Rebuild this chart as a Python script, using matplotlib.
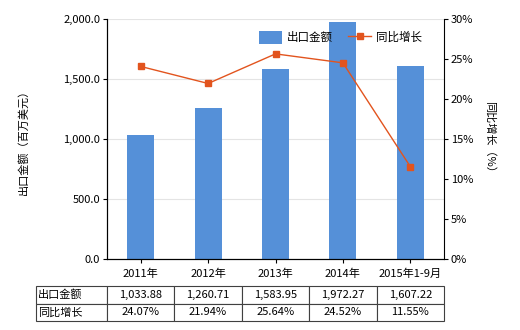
import numpy as np
import matplotlib
matplotlib.use('Agg')
import matplotlib.pyplot as plt
from matplotlib.ticker import FuncFormatter

plt.rcParams['font.family'] = ['Noto Sans CJK SC', 'DejaVu Sans']
plt.rcParams['font.size'] = 8

categories = ['2011年', '2012年', '2013年', '2014年', '2015年1-9月']
export_value = [1033.88, 1260.71, 1583.95, 1972.27, 1607.22]
yoy_growth = [24.07, 21.94, 25.64, 24.52, 11.55]
value_labels = ['1,033.88', '1,260.71', '1,583.95', '1,972.27', '1,607.22']
growth_labels = ['24.07%', '21.94%', '25.64%', '24.52%', '11.55%']
row_names = ['出口金额', '同比增长']

bar_color = '#5590d8'
line_color = '#e2541e'

fig = plt.figure(figsize=(5.2, 3.3), dpi=100)
ax = fig.add_axes([107 / 520, 1 - 259 / 330, 337 / 520, 240 / 330])
x = np.arange(len(categories))

ax.bar(x, export_value, width=0.4, color=bar_color, label='出口金额', zorder=2)
ax.set_xlim(-0.5, len(categories) - 0.5)
ax.set_ylim(0, 2000)
ax.set_yticks(np.arange(0, 2001, 500))
ax.yaxis.set_major_formatter(FuncFormatter(lambda v, p: f'{v:,.1f}'))
ax.grid(axis='y', color='#e4e4e4', linewidth=0.8, zorder=0)
ax.set_axisbelow(True)
ax.set_xticks(x)
ax.set_xticklabels(categories)
ax.set_ylabel('出口金额（百万美元）')
ax.yaxis.set_label_coords(-0.231, 0.5)
ax.spines['top'].set_visible(False)
ax.spines['right'].set_visible(False)
ax.tick_params(length=3, color='black', pad=2)
ax.tick_params(axis='x', pad=4)

ax2 = ax.twinx()
ax2.plot(x, yoy_growth, color=line_color, marker='s', markersize=4, linewidth=1,
         label='同比增长', zorder=3)
ax2.set_ylim(0, 30)
ax2.set_yticks(np.arange(0, 31, 5))
ax2.yaxis.set_major_formatter(FuncFormatter(lambda v, p: f'{v:.0f}%'))
ax2.set_ylabel('同比增长（%）', rotation=270, va='center')
ax2.yaxis.set_label_coords(1.136, 0.5)
ax2.spines['top'].set_visible(False)
ax2.tick_params(length=3, pad=2)

h1, l1 = ax.get_legend_handles_labels()
h2, l2 = ax2.get_legend_handles_labels()
leg = ax2.legend(h1 + h2, l1 + l2, loc='center left', bbox_to_anchor=(259 / 520, 1 - 37.5 / 330),
                 bbox_transform=fig.transFigure, ncol=2, frameon=False, borderpad=0,
                 borderaxespad=0, handlelength=2.0, handleheight=1.4, handletextpad=0.45,
                 columnspacing=1.3, fontsize=8.3)

# table below the axis
col_w = [71] + [337 / 5] * 5
tab = ax.table(cellText=[[row_names[0]] + value_labels, [row_names[1]] + growth_labels],
               cellLoc='center', colWidths=col_w,
               bbox=[-71 / 337, -62 / 240, 408 / 337, 35 / 240])
tab.auto_set_font_size(False)
for (r, c), cell in tab.get_celld().items():
    cell.set_fontsize(8)
    cell.set_edgecolor('#404040')
    cell.set_linewidth(0.8)
    if c == 0:
        cell.set_text_props(ha='left')
        cell.PAD = 0.03

plt.savefig('out.png', dpi=100)
